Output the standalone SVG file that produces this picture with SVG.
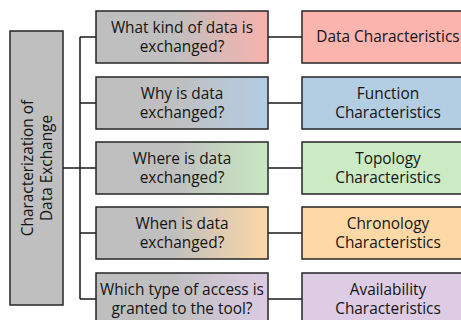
<svg xmlns="http://www.w3.org/2000/svg" width="461" height="320" viewBox="0 0 461 320">
<style>
.box{stroke:#262626;stroke-width:1.5}
.t{font-family:"Open Sans","Liberation Sans",sans-serif;font-size:15.4px;fill:#141414;text-anchor:middle}
.c{fill:none;stroke:#1a1a1a;stroke-width:1.5}
</style>
<defs>
<linearGradient id="g1" x1="0" x2="1"><stop offset="0.45" stop-color="#bfbfbf"/><stop offset="1" stop-color="#f8b2ad"/></linearGradient>
<linearGradient id="g2" x1="0" x2="1"><stop offset="0.45" stop-color="#bfbfbf"/><stop offset="1" stop-color="#b3cde3"/></linearGradient>
<linearGradient id="g3" x1="0" x2="1"><stop offset="0.45" stop-color="#bfbfbf"/><stop offset="1" stop-color="#c9e8c2"/></linearGradient>
<linearGradient id="g4" x1="0" x2="1"><stop offset="0.45" stop-color="#bfbfbf"/><stop offset="1" stop-color="#fdd8a5"/></linearGradient>
<linearGradient id="g5" x1="0" x2="1"><stop offset="0.45" stop-color="#bfbfbf"/><stop offset="1" stop-color="#dccbe4"/></linearGradient>
</defs>
<g id="connectors">
<path class="c" d="M63 168H80M80 37V299M80 37H96M80 103H96M80 168H96M80 233H96M80 299H96"/>
<path class="c" d="M268 37H302M268 103H302M268 168H302M268 233H302M268 299H302"/>
</g>
<g id="root">
<rect class="box" x="10" y="31" width="53" height="274" fill="#bfbfbf"/>
<text class="t" transform="translate(36.5 168) rotate(-90)"><tspan x="0" y="-4">Characterization of</tspan><tspan x="0" y="15">Data Exchange</tspan></text>
</g>
<g id="q1"><rect class="box" x="96" y="11" width="172" height="52" fill="url(#g1)"/><text class="t"><tspan x="182" y="33">What kind of data is</tspan><tspan x="182" y="52">exchanged?</tspan></text></g>
<g id="q2"><rect class="box" x="96" y="77" width="172" height="52" fill="url(#g2)"/><text class="t"><tspan x="182" y="99">Why is data</tspan><tspan x="182" y="118">exchanged?</tspan></text></g>
<g id="q3"><rect class="box" x="96" y="142" width="172" height="52" fill="url(#g3)"/><text class="t"><tspan x="182" y="164">Where is data</tspan><tspan x="182" y="183">exchanged?</tspan></text></g>
<g id="q4"><rect class="box" x="96" y="207" width="172" height="52" fill="url(#g4)"/><text class="t"><tspan x="182" y="229">When is data</tspan><tspan x="182" y="248">exchanged?</tspan></text></g>
<g id="q5"><rect class="box" x="96" y="273" width="172" height="52" fill="url(#g5)"/><text class="t"><tspan x="182" y="295">Which type of access is</tspan><tspan x="182" y="314">granted to the tool?</tspan></text></g>
<g id="a1"><rect class="box" x="302" y="11" width="172" height="52" fill="#fbb4ae"/><text class="t" x="388" y="42">Data Characteristics</text></g>
<g id="a2"><rect class="box" x="302" y="77" width="172" height="52" fill="#b3cde3"/><text class="t"><tspan x="388" y="99">Function</tspan><tspan x="388" y="118">Characteristics</tspan></text></g>
<g id="a3"><rect class="box" x="302" y="142" width="172" height="52" fill="#ccebc5"/><text class="t"><tspan x="388" y="164">Topology</tspan><tspan x="388" y="183">Characteristics</tspan></text></g>
<g id="a4"><rect class="box" x="302" y="207" width="172" height="52" fill="#fed9a6"/><text class="t"><tspan x="388" y="229">Chronology</tspan><tspan x="388" y="248">Characteristics</tspan></text></g>
<g id="a5"><rect class="box" x="302" y="273" width="172" height="52" fill="#decbe4"/><text class="t"><tspan x="388" y="295">Availability</tspan><tspan x="388" y="314">Characteristics</tspan></text></g>
</svg>
